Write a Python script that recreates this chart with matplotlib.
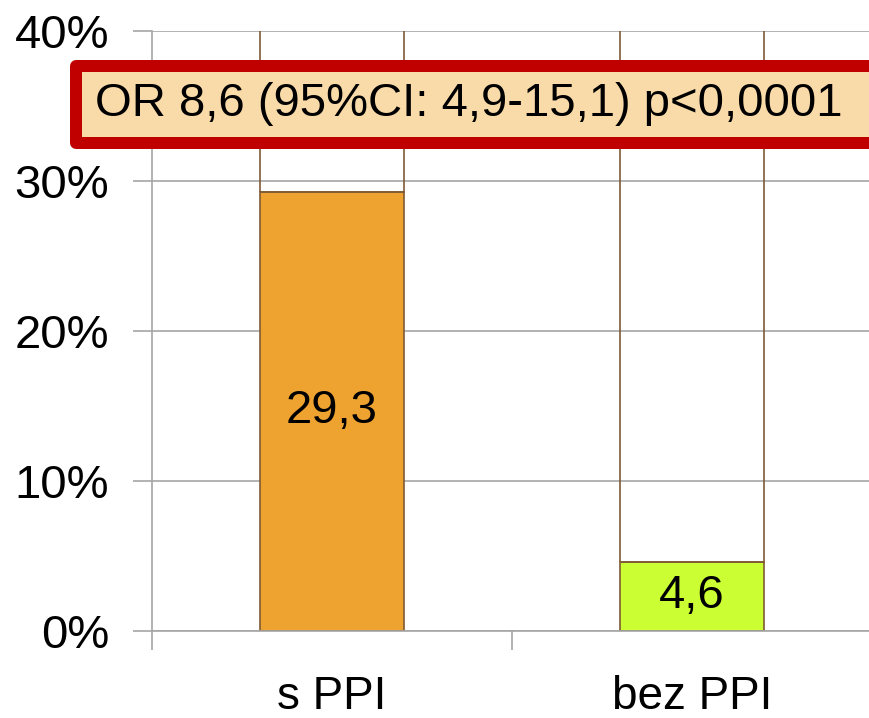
import matplotlib.pyplot as plt
from matplotlib.patches import Rectangle

plt.rcParams['font.family'] = ['Liberation Sans', 'DejaVu Sans']

categories = ['s PPI', 'bez PPI']
values = [29.3, 4.6]
colors = ['#EEA230', '#CCFF33']
value_labels = ['29,3', '4,6']
yticks = [0, 10, 20, 30, 40]
ytick_labels = ['0%', '10%', '20%', '30%', '40%']
note = 'OR 8,6 (95%CI: 4,9-15,1) p<0,0001'

W, H = 870, 718
fig = plt.figure(figsize=(W / 100, H / 100), dpi=100)
ax = fig.add_axes([152 / W, (H - 631) / H, 720 / W, 600 / H])

edge = '#7F5A35'
grid = '#A6A6A6'
x = list(range(len(categories)))

# white remainder up to 100% (only edges visible)
ax.bar(x, [100 - v for v in values], bottom=values, width=0.4,
       facecolor='none', edgecolor=edge, linewidth=1.2, zorder=3)
bars = ax.bar(x, values, width=0.4, color=colors, edgecolor=edge,
              linewidth=1.2, zorder=2)
for b, lab in zip(bars, value_labels):
    ax.text(b.get_x() + b.get_width() / 2, b.get_height() / 2, lab,
            ha='center', va='center', fontsize=34, zorder=4)

ax.set_xlim(-0.5, len(categories) - 0.5)
ax.set_ylim(0, 40)
ax.set_yticks(yticks)
ax.set_yticklabels(ytick_labels, fontsize=34)
ax.yaxis.grid(True, color=grid, linewidth=1.2)
ax.set_axisbelow(True)

ax.set_xticks([-0.5, 0.5, 1.5])
ax.set_xticklabels([])
ax.set_xticks(x, minor=True)
ax.set_xticklabels(categories, minor=True, fontsize=33)
ax.tick_params(axis='x', which='minor', length=0, pad=32)
ax.tick_params(axis='x', which='major', length=14, width=1.2, color=grid)
ax.tick_params(axis='y', length=14, width=1.2, color=grid, pad=17)

for s in ['top', 'right']:
    ax.spines[s].set_visible(False)
for s in ['left', 'bottom']:
    ax.spines[s].set_color(grid)
    ax.spines[s].set_linewidth(1.2)

# annotation box
lw_px = 12
box = Rectangle((76 / W, (H - 143) / H), 830 / W, 77 / H,
                transform=fig.transFigure, facecolor='#F9DAA9',
                edgecolor='#C00000', linewidth=lw_px * 0.72,
                joinstyle='round', clip_on=False, zorder=10)
fig.patches.append(box)
fig.text(95 / W, (H - 104) / H, note, ha='left', va='center',
         fontsize=34, zorder=11)

fig.savefig('out.png', dpi=100)
